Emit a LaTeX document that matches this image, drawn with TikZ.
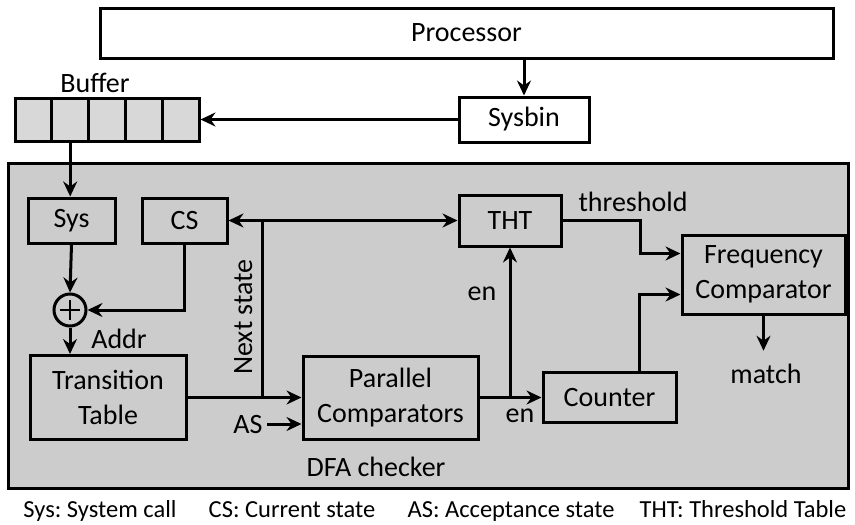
\documentclass[tikz,border=0pt]{standalone}
\usepackage{fontspec}
\setmainfont{Carlito}
\usetikzlibrary{arrows.meta,calc}
\definecolor{boxgray}{RGB}{204,204,204}
\definecolor{bufgray}{RGB}{216,216,216}
\begin{document}
\frenchspacing
\begin{tikzpicture}[x=1pt, y=-1pt, line width=3pt,
  every node/.style={font=\fontsize{28}{35}\selectfont},
  blk/.style={draw, fill=boxgray, align=center, inner sep=0pt},
  lbl/.style={anchor=base},
  legend/.style={anchor=base, font=\fontsize{24.5}{30}\selectfont},
  arr/.style={-{Stealth[length=15pt,width=14pt,inset=5pt]}}]
\useasboundingbox (0,0) rectangle (855,525);
\node[blk, minimum width=840pt, minimum height=325pt] (dfa) at (428,325.5) {};
\node[blk, fill=white, minimum width=733pt, minimum height=50pt] (proc) at (466.5,33) {Processor};
\node[blk, fill=white, minimum width=130pt, minimum height=45pt] (sysbin) at (524,119.5) {Sysbin};
\foreach \i in {0,...,4}
  \node[blk, fill=bufgray, minimum width=36.8pt, minimum height=43pt] (buf\i) at ({33.4+36.8*\i},119.5) {};
\node[lbl] (buflbl) at (95,92) {Buffer};
\node[blk, minimum width=87pt, minimum height=45pt] (sys) at (71.5,220.5) {Sys};
\node[blk, minimum width=85pt, minimum height=45pt] (cs) at (184.5,220.5) {CS};
\node[blk, minimum width=102pt, minimum height=51pt] (tht) at (510,220.5) {THT};
\node[blk, minimum width=156pt, minimum height=84pt] (tt) at (108,397.5) {Transition\\Table};
\node[blk, minimum width=175pt, minimum height=83pt] (pc) at (390.5,397.5) {Parallel\\Comparators};
\node[blk, minimum width=133pt, minimum height=50pt] (cnt) at (609.5,397.5) {Counter};
\node[blk, minimum width=163pt, minimum height=79pt] (fc) at (763.5,274.5) {Frequency\\Comparator};
\node[draw, circle, fill=boxgray, minimum size=32pt, inner sep=0pt] (add) at (70,310) {};
\draw[line width=2.4pt] ($(add)+(-10,0)$) -- ($(add)+(10,0)$) ($(add)+(0,-10)$) -- ($(add)+(0,10)$);
\coordinate (ns) at (262,0);
\draw[arr] (sysbin.north |- proc.south) -- (sysbin.north);
\draw[arr] (sysbin.west) -- (buf4.east);
\draw[arr] (buf1.south) -- (buf1.south |- sys.north);
\draw[arr] (sys.south) -- (add.north);
\draw[arr] (cs.south) |- (add.east);
\draw[arr] (add.south) -- (add.south |- tt.north);
\node[lbl] (addr) at (119,348) {Addr};
\draw[arr] (tt.east) -- (pc.west);
\draw (ns |- tt.east) -- (ns |- cs.east);
\draw[arr] (ns |- cs.east) -- (cs.east);
\draw[arr] (ns |- cs.east) -- (tht.west);
\node[lbl, rotate=90] (nslbl) at (252,317) {Next state};
\node[lbl] (as) at (248,433) {AS};
\draw[arr] (as.east |- 0,424) -- (pc.west |- 0,424);
\draw[arr] (pc.east) -- (cnt.west);
\draw[arr] (tht.south |- pc.east) -- (tht.south);
\node[lbl] (en1) at (482,300) {en};
\node[lbl] (en2) at (520,422) {en};
\draw[arr] (tht.east) -- ++(78,0) |- ([yshift=21pt]fc.west);
\node[lbl] (thr) at (633,211) {threshold};
\draw[arr] ([xshift=30pt]cnt.north) |- ([yshift=-20pt]fc.west);
\node[lbl] (match) at (766,383) {match};
\draw[arr, shorten >=8pt] (fc.south) -- (fc.south |- match.north);
\node[lbl] (dfalbl) at (376,476) {DFA checker};
\node[legend] (lg1) at (100,517) {Sys: System call};
\node[legend] (lg2) at (292,517) {CS: Current state};
\node[legend] (lg3) at (511,517) {AS: Acceptance state};
\node[legend] (lg4) at (743,517) {THT: Threshold Table};
\end{tikzpicture}
\end{document}
